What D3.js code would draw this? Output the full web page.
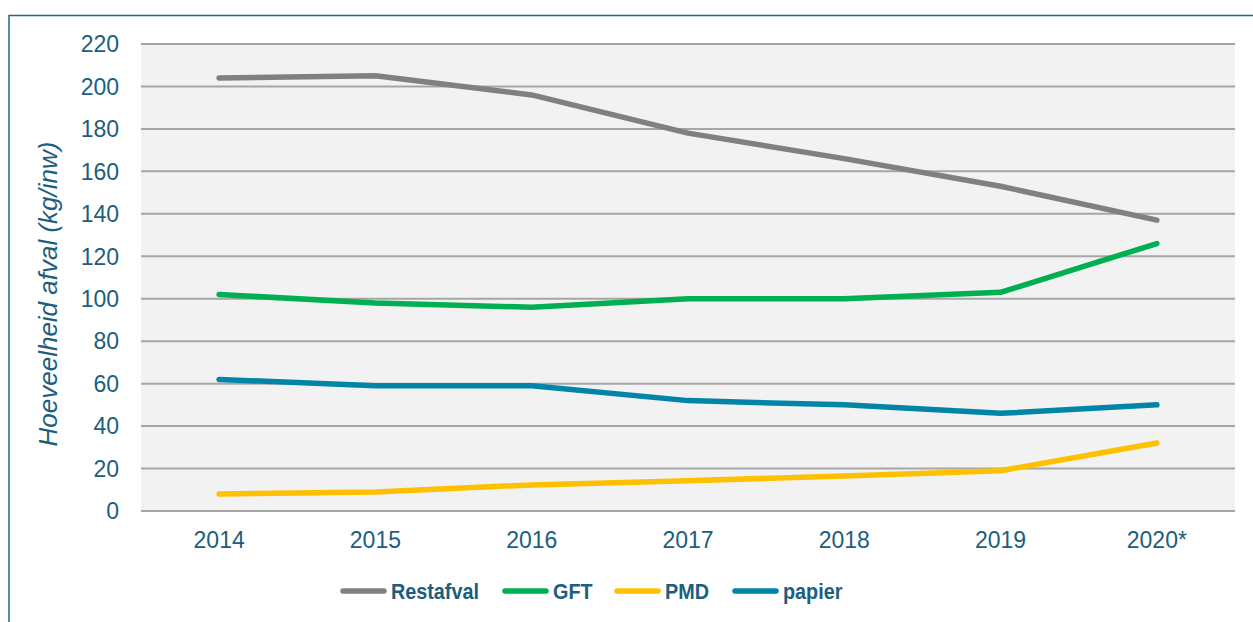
<!DOCTYPE html>
<html lang="nl">
<head>
  <meta charset="UTF-8" />
  <title>Hoeveelheid afval per inwoner</title>
  <script src="https://d3js.org/d3.v7.min.js"></script>
  <style>
    body {
      margin: 0;
      padding: 0;
      background: #fff;
      font-family: "Liberation Sans", Arial, sans-serif;
    }
    svg { display: block; }
    .tick-label { fill: #1b5e7e; font-size: 23px; }
    .axis-title { fill: #1b5e7e; font-size: 26px; font-style: italic; }
    .legend-label { fill: #1b5e7e; font-size: 22px; font-weight: bold; }
    .grid line { stroke: #a6a6a6; stroke-width: 2px; }
    .series { fill: none; stroke-width: 5.5px; stroke-linecap: round; stroke-linejoin: round; }
  </style>
</head>
<body>
  <svg id="chart" width="1253" height="622"></svg>

  <script>
    const years = ["2014", "2015", "2016", "2017", "2018", "2019", "2020*"];
    const restafval = [204, 205, 196, 178, 166, 153, 137];
    const gft = [102, 98, 96, 100, 100, 103, 126];
    const pmd = [8, 9, 12.3, 14.3, 16.5, 19, 32];
    const papier = [62, 59, 59, 52, 50, 46, 50];
    const yTicks = [0, 20, 40, 60, 80, 100, 120, 140, 160, 180, 200, 220];

    const series = [
      { name: "Restafval", values: restafval, color: "#808080" },
      { name: "GFT", values: gft, color: "#00b050" },
      { name: "PMD", values: pmd, color: "#ffc000" },
      { name: "papier", values: papier, color: "#0085a8" }
    ];

    const svg = d3.select("#chart");
    const plot = { left: 141, right: 1235, top: 44, bottom: 511 };

    // outer frame (only left and top edges are visible in the picture)
    svg.append("path")
      .attr("d", "M9,622 V15.5 H1253")
      .attr("fill", "none")
      .attr("stroke", "#1b6a8c")
      .attr("stroke-width", 1.5);

    const x = d3.scaleBand().domain(years).range([plot.left, plot.right]);
    const y = d3.scaleLinear().domain([0, 220]).range([plot.bottom, plot.top]);

    svg.append("rect")
      .attr("x", plot.left).attr("y", plot.top)
      .attr("width", plot.right - plot.left)
      .attr("height", plot.bottom - plot.top)
      .attr("fill", "#f2f2f2");

    svg.append("g")
      .attr("class", "grid")
      .selectAll("line")
      .data(yTicks)
      .enter()
      .append("line")
      .attr("x1", plot.left).attr("x2", plot.right)
      .attr("y1", d => y(d)).attr("y2", d => y(d));

    // y tick labels
    svg.append("g")
      .selectAll("text")
      .data(yTicks)
      .enter()
      .append("text")
      .attr("class", "tick-label")
      .attr("x", 119)
      .attr("y", d => y(d) + 8.3)
      .attr("text-anchor", "end")
      .text(d => d);

    // x tick labels
    svg.append("g")
      .selectAll("text")
      .data(years)
      .enter()
      .append("text")
      .attr("class", "tick-label")
      .attr("x", d => x(d) + x.bandwidth() / 2)
      .attr("y", 548)
      .attr("text-anchor", "middle")
      .text(d => d);

    svg.append("text")
      .attr("class", "axis-title")
      .attr("transform", "translate(57,294) rotate(-90)")
      .attr("text-anchor", "middle")
      .text("Hoeveelheid afval (kg/inw)");

    const line = d3.line()
      .x((d, i) => x(years[i]) + x.bandwidth() / 2)
      .y(d => y(d));

    svg.append("g")
      .selectAll("path")
      .data(series)
      .enter()
      .append("path")
      .attr("class", "series")
      .attr("stroke", d => d.color)
      .attr("d", d => line(d.values));

    // legend
    const legendX = [340, 502, 614, 732];
    const legend = svg.append("g")
      .selectAll("g")
      .data(series)
      .enter()
      .append("g")
      .attr("transform", (d, i) => "translate(" + legendX[i] + ",591)");

    legend.append("line")
      .attr("x1", 3).attr("x2", 44)
      .attr("y1", 0).attr("y2", 0)
      .attr("stroke", d => d.color)
      .attr("stroke-width", 5.5)
      .attr("stroke-linecap", "round");

    legend.append("text")
      .attr("class", "legend-label")
      .attr("transform", "translate(51,8) scale(0.9,1)")
      .text(d => d.name);
  </script>
</body>
</html>
